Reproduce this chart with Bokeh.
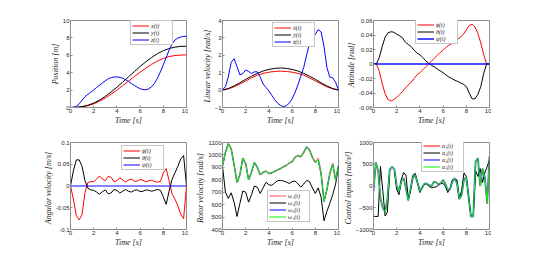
import numpy as np
from bokeh.plotting import figure
from bokeh.layouts import row, column
from bokeh.models import FixedTicker, Legend, LegendItem, Range1d
from bokeh.embed import file_html
from bokeh.resources import INLINE

# ---------------- data ----------------
t21 = np.linspace(0, 10, 21)
t41 = np.linspace(0, 10, 41)
t51 = np.linspace(0, 10, 51)

# Position (t step 0.5 / 0.25)
pos_x = [0, 0.02, 0.08, 0.21, 0.42, 0.72, 1.09, 1.53, 2.0, 2.51, 3.03, 3.55, 4.06, 4.53, 4.97, 5.34,
         5.64, 5.85, 5.97, 6.03, 6.05]
pos_y = [0, 0.02, 0.10, 0.26, 0.51, 0.85, 1.28, 1.78, 2.33, 2.92, 3.52, 4.12, 4.71, 5.26, 5.76, 6.19,
         6.53, 6.78, 6.94, 7.02, 7.05]
pos_z = [0, 0.02, 0.13, 0.42, 0.85, 1.25, 1.52, 1.76, 2.02, 2.3, 2.56, 2.81, 3.07, 3.3, 3.43, 3.5,
         3.51, 3.47, 3.36, 3.2, 2.99, 2.77, 2.54, 2.33, 2.17, 2.06, 2.04, 2.15, 2.4, 2.8, 3.38, 4.1,
         4.9, 5.75, 6.6, 7.3, 7.75, 7.98, 8.1, 8.17, 8.2]

# Linear velocity
vel_x = [0, 0.07, 0.19, 0.35, 0.53, 0.70, 0.86, 0.96, 1.03, 1.07, 1.09, 1.07, 1.03, 0.96, 0.86, 0.70,
         0.53, 0.35, 0.19, 0.07, 0]
vel_y = [0, 0.09, 0.24, 0.42, 0.62, 0.80, 0.96, 1.10, 1.19, 1.25, 1.27, 1.25, 1.19, 1.10, 0.96, 0.80,
         0.62, 0.42, 0.24, 0.09, 0]
vel_z = [0, 0.2, 0.75, 1.6, 1.8, 1.35, 0.88, 0.95, 1.15, 1.08, 0.95, 1.05, 1.05, 0.75, 0.35, 0.15,
         -0.05, -0.3, -0.55, -0.75, -0.88, -0.95, -0.9, -0.75, -0.5, -0.15, 0.3, 0.8, 1.3, 2.0, 2.7,
         3.0, 3.2, 3.48, 3.35, 2.5, 1.3, 0.75, 0.7, 0.45, 0.0]

# Attitude (t step 0.25)
att_phi = [0, 0, -0.010, -0.027, -0.041, -0.049, -0.051, -0.049, -0.046, -0.042, -0.038, -0.033,
           -0.029, -0.025, -0.020, -0.015, -0.012, -0.008, -0.004, 0.0, 0.004, 0.008, 0.012, 0.016,
           0.019, 0.023, 0.026, 0.028, 0.031, 0.034, 0.037, 0.041, 0.047, 0.053, 0.055, 0.051, 0.042,
           0.029, 0.013, 0.0, 0.0]
att_theta = [0, 0, 0.009, 0.024, 0.037, 0.043, 0.0445, 0.0438, 0.041, 0.039, 0.036, 0.030, 0.027,
             0.024, 0.019, 0.015, 0.0128, 0.009, 0.0045, 0.001, -0.002, -0.004, -0.007, -0.0095,
             -0.012, -0.015, -0.018, -0.020, -0.0224, -0.024, -0.026, -0.028, -0.031, -0.040, -0.048,
             -0.048, -0.042, -0.031, -0.013, 0.0, 0.0]
att_psi = [0] * 41

# Angular velocity (t step 0.25)
om_phi = [0, -0.03, -0.068, -0.078, -0.065, -0.015, 0.008, 0.010, 0.010, 0.016, 0.023, 0.016, 0.012,
          0.022, 0.020, 0.010, 0.012, 0.019, 0.014, 0.009, 0.014, 0.016, 0.011, 0.011, 0.015, 0.013,
          0.010, 0.012, 0.013, 0.010, 0.009, 0.010, 0.030, 0.040, 0.012, -0.018, -0.030, -0.045,
          -0.065, -0.075, 0.0]
om_theta = [0, 0.035, 0.060, 0.060, 0.045, 0.012, -0.005, -0.009, -0.010, -0.014, -0.019, -0.013,
            -0.009, -0.018, -0.016, -0.008, -0.010, -0.016, -0.012, -0.008, -0.012, -0.014, -0.010,
            -0.009, -0.013, -0.012, -0.009, -0.010, -0.012, -0.010, -0.008, -0.010, -0.025, -0.042,
            -0.012, 0.015, 0.030, 0.045, 0.062, 0.070, 0.0]
om_psi = [0] * 41

# Rotor velocity (t step 0.25)
w4 = [910, 1020, 1090, 1050, 920, 780, 840, 975, 930, 800, 860, 940, 900, 840, 860, 870, 850, 856,
      868, 880, 890, 905, 915, 935, 945, 980, 995, 985, 1020, 1065, 1040, 980, 940, 960, 850, 625,
      720, 850, 925, 800, 912]
w1 = [910, 1020, 1090, 1050, 920, 780, 840, 975, 930, 800, 860, 940, 900, 840, 860, 870, 850, 856,
      868, 880, 890, 905, 915, 935, 945, 980, 995, 985, 1020, 1065, 1040, 980, 940, 975, 850, 630,
      720, 850, 935, 800, 912]
w3 = w4
w2 = [910, 700, 650, 695, 620, 505, 610, 710, 700, 620, 680, 750, 740, 690, 735, 780, 760, 755, 775,
      792, 795, 790, 782, 770, 785, 790, 768, 742, 765, 795, 785, 735, 690, 735, 660, 470, 545, 610,
      680, 765, 910]

# Control inputs (t step 0.2)
a4 = [-120, 540, 350, -280, -500, -600, -300, 380, 440, 380, 0, -120, 120, 180, -60, -330, -50, 200,
      250, 70, -120, -40, 60, 50, 20, -10, 100, 80, 40, 60, 140, 50, -100, -60, 100, 180, 60, -300,
      -200, 150, 200, -250, -700, -700, 560, 640, 0, 400, 200, -400, 680]
a1 = a4
a3 = a4
a2 = [-700, -700, -700, 450, -100, -690, -600, 380, 440, 380, -80, -200, 150, 310, 250, -300, -100,
      250, 290, 70, -150, -20, 50, 40, -10, -40, -30, -20, 20, 60, 60, -10, -150, -60, 140, 150, 140,
      -300, -100, 300, 220, -250, -700, -700, 350, 220, 400, 80, 300, 450, 600]

XTICKS = [0, 2, 4, 6, 8, 10]
AX = "#8c8c8c"
TXT = "#262626"
SERIF = "Liberation Serif"
SANS = "Liberation Sans"


def make_fig(w, h, bl, bt, bb, yr, yticks, ylab, yover=None):
    p = figure(width=w, height=h, output_backend="svg", toolbar_location=None,
               x_range=Range1d(0, 10), y_range=Range1d(*yr),
               min_border_left=bl, min_border_right=2, min_border_top=bt, min_border_bottom=bb)
    p.xgrid.visible = False
    p.ygrid.visible = False
    p.outline_line_color = AX
    p.outline_line_width = 1
    for ax in (p.xaxis[0], p.yaxis[0]):
        ax.major_tick_in = 2
        ax.major_tick_out = 0
        ax.minor_tick_line_color = None
        ax.axis_line_color = AX
        ax.major_tick_line_color = AX
        ax.major_label_text_font = SANS
        ax.major_label_text_font_size = "6px"
        ax.major_label_text_color = TXT
        ax.axis_label_text_font = SERIF
        ax.axis_label_text_font_style = "italic"
        ax.axis_label_text_font_size = "8px"
        ax.axis_label_text_color = TXT
        ax.major_label_standoff = 1
        ax.axis_label_standoff = 0
    p.xaxis.ticker = FixedTicker(ticks=XTICKS)
    p.xaxis.axis_label = "Time [s]"
    p.yaxis.ticker = FixedTicker(ticks=yticks)
    p.yaxis.axis_label = ylab
    if yover:
        p.yaxis.major_label_overrides = yover
    return p


def add_legend(p, items, loc):
    lg = Legend(items=[LegendItem(label=l, renderers=[r]) for l, r in items], location=loc)
    lg.label_text_font = SERIF
    lg.label_text_font_style = "italic"
    lg.label_text_font_size = "6px"
    lg.label_text_color = TXT
    lg.label_text_line_height = 1.0
    lg.glyph_width = 17
    lg.glyph_height = 7
    lg.label_height = 7
    lg.label_standoff = 2
    lg.padding = 1
    lg.spacing = 0
    lg.margin = 0
    lg.border_line_color = AX
    lg.border_line_width = 1
    lg.background_fill_color = "white"
    lg.background_fill_alpha = 1
    p.add_layout(lg, "center")


RED, BLK, BLU, GRN = "#ff0000", "#000000", "#0000ff", "#00ff00"

# Row 1
p1 = make_fig(188, 129, 70, 20, 22, (0, 10), [0, 2, 4, 6, 8, 10], "Position [m]")
r1 = p1.line(t21, pos_x, color=RED, line_width=1)
r2 = p1.line(t21, pos_y, color=BLK, line_width=1)
r3 = p1.line(t41, pos_z, color=BLU, line_width=1)
add_legend(p1, [("x(t)", r1), ("y(t)", r2), ("z(t)", r3)], (60, 62))

p2 = make_fig(152, 129, 34, 20, 22, (-1, 4), [-1, 0, 1, 2, 3, 4], "Linear  velocity  [rad/s]")
r1 = p2.line(t21, vel_x, color=RED, line_width=1)
r2 = p2.line(t21, vel_y, color=BLK, line_width=1)
r3 = p2.line(t41, vel_z, color=BLU, line_width=1)
add_legend(p2, [("ẋ(t)", r1), ("ẏ(t)", r2), ("ż(t)", r3)], (50, 60))

att_ticks = [-0.06, -0.04, -0.02, 0, 0.02, 0.04, 0.06]
att_over = {-0.06: "-0.06", -0.04: "-0.04", -0.02: "-0.02", 0: "0", 0.02: "0.02", 0.04: "0.04",
            0.06: "0.06"}
p3 = make_fig(151, 129, 33, 20, 22, (-0.06, 0.06), att_ticks, "Attitude  [rad]", att_over)
r1 = p3.line(t41, att_phi, color=RED, line_width=1)
r2 = p3.line(t41, att_theta, color=BLK, line_width=1)
r3 = p3.line(t41, att_psi, color=BLU, line_width=2, line_alpha=0.7)
add_legend(p3, [("ϕ(t)", r1), ("θ(t)", r2), ("ψ(t)", r3)], (42, 63))

# Row 2
om_ticks = [-0.1, -0.05, 0, 0.05, 0.1]
om_over = {-0.1: "-0.1", -0.05: "-0.05", 0: "0", 0.05: "0.05", 0.1: "0.1"}
p4 = make_fig(188, 121, 70, 13, 21, (-0.1, 0.1), om_ticks, "Angular  velocity  [m/s]", om_over)
r1 = p4.line(t41, om_phi, color=RED, line_width=1)
r2 = p4.line(t41, om_theta, color=BLK, line_width=1)
r3 = p4.line(t41, om_psi, color=BLU, line_width=1)
add_legend(p4, [("ϕ̇(t)", r1), ("θ̇(t)", r2), ("ψ̇(t)", r3)], (51, 59))

p5 = make_fig(152, 121, 34, 13, 21, (400, 1100), [400, 500, 600, 700, 800, 900, 1000, 1100],
              "Rotor  velocity  [rad/s]")
r2 = p5.line(t41, w2, color=BLK, line_width=1)
r1 = p5.line(t41, w1, color=RED, line_width=2, line_alpha=0.35)
r3 = p5.line(t41, w3, color=BLU, line_width=1)
r4 = p5.line(t41, w4, color=GRN, line_width=1)
add_legend(p5, [("ω₁(t)", r1), ("ω₂(t)", r2), ("ω₃(t)", r3), ("ω₄(t)", r4)], (45, 7))

p6 = make_fig(151, 121, 33, 13, 21, (-1000, 1000), [-1000, -500, 0, 500, 1000],
              "Control  inputs  [rad/s²]")
r1 = p6.line(t51, a1, color=RED, line_width=1)
r2 = p6.line(t51, a2, color=BLK, line_width=1)
r3 = p6.line(t51, a3, color=BLU, line_width=2, line_alpha=0.5)
r4 = p6.line(t51, a4, color=GRN, line_width=1)
add_legend(p6, [("α₁(t)", r1), ("α₂(t)", r2), ("α₃(t)", r3), ("α₄(t)", r4)], (48, 57))

layout = column(row(p1, p2, p3), row(p4, p5, p6))

open("out.html", "w").write(file_html(layout, INLINE))
